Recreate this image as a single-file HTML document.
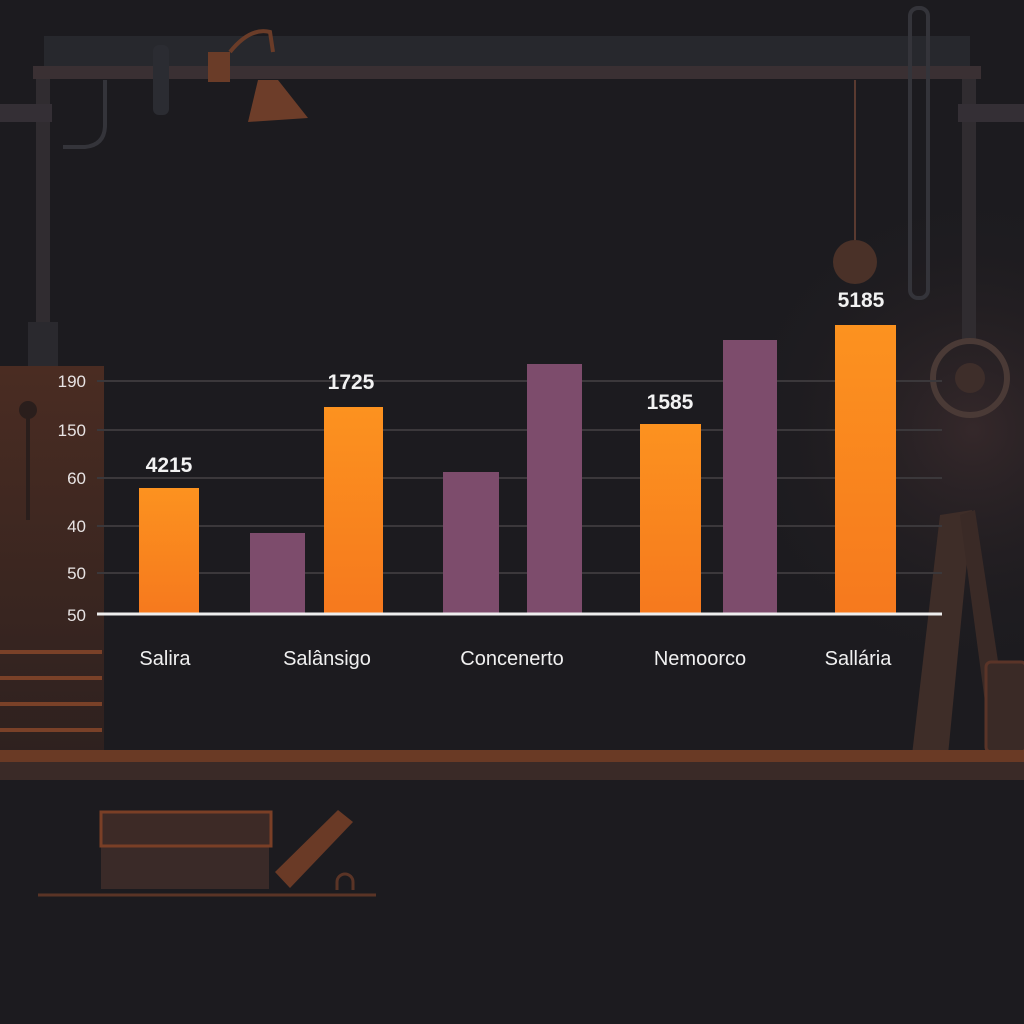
<!DOCTYPE html>
<html><head><meta charset="utf-8"><style>
html,body{margin:0;padding:0;background:#1c1b1f;}
svg{display:block}
text{font-family:"Liberation Sans",sans-serif;}
</style></head><body>
<svg width="1024" height="1024" viewBox="0 0 1024 1024" xmlns="http://www.w3.org/2000/svg">
<defs>
<linearGradient id="og" x1="0" y1="0" x2="0" y2="1"><stop offset="0" stop-color="#fc921f"/><stop offset="1" stop-color="#f6791e"/></linearGradient>
<linearGradient id="lp" x1="0" y1="0" x2="0" y2="1"><stop offset="0" stop-color="#4a2c22"/><stop offset="1" stop-color="#2e211f"/></linearGradient>
<radialGradient id="rg" cx="0.95" cy="0.42" r="0.25"><stop offset="0" stop-color="#35282a"/><stop offset="1" stop-color="#1c1b1f" stop-opacity="0"/></radialGradient>
</defs>
<rect width="1024" height="1024" fill="#1c1b1f"/>
<rect width="1024" height="1024" fill="url(#rg)"/>
<!-- top beam -->
<rect x="44" y="36" width="926" height="34" fill="#27282d"/>
<rect x="33" y="66" width="948" height="13" fill="#3a3033"/>
<rect x="36" y="79" width="14" height="290" fill="#302c30"/>
<rect x="962" y="79" width="14" height="260" fill="#302c30"/>
<rect x="0" y="104" width="52" height="18" fill="#342f35"/>
<rect x="958" y="104" width="66" height="18" fill="#342f35"/>
<rect x="28" y="322" width="30" height="46" fill="#2a292e"/>
<rect x="910" y="8" width="18" height="290" rx="8" fill="none" stroke="#34343a" stroke-width="4"/>
<rect x="208" y="52" width="22" height="30" fill="#6a3c28"/>
<path d="M230 52 q20 -25 40 -20 l3 20" fill="none" stroke="#6a3c28" stroke-width="4"/>
<polygon points="258,80 278,80 308,118 248,122" fill="#6d3d29"/>
<rect x="153" y="45" width="16" height="70" rx="6" fill="#2b2c32"/>
<path d="M105 80 v45 q0 20 -20 22 h-22" fill="none" stroke="#34343a" stroke-width="4"/>
<line x1="855" y1="80" x2="855" y2="240" stroke="#5a3a30" stroke-width="2"/>
<ellipse cx="855" cy="262" rx="22" ry="22" fill="#4a3128"/>
<circle cx="970" cy="378" r="37" fill="none" stroke="#4a3a36" stroke-width="6"/>
<circle cx="970" cy="378" r="15" fill="#3e2e2a"/>
<!-- left panel -->
<rect x="0" y="366" width="104" height="390" fill="url(#lp)"/>
<line x1="28" y1="410" x2="28" y2="520" stroke="#2a1e1c" stroke-width="4"/>
<circle cx="28" cy="410" r="9" fill="#2a1e1c"/>
<g stroke="#7a4128" stroke-width="4">
<line x1="0" y1="652" x2="102" y2="652"/><line x1="0" y1="678" x2="102" y2="678"/><line x1="0" y1="704" x2="102" y2="704"/><line x1="0" y1="730" x2="102" y2="730"/>
</g>
<!-- right easel -->
<polygon points="940,515 972,510 948,755 912,755" fill="#3e2d28"/>
<polygon points="960,515 975,510 1010,740 990,740" fill="#3a2a26"/>
<rect x="986" y="662" width="40" height="90" rx="5" fill="#3a2a26" stroke="#5a3428" stroke-width="3"/>
<!-- shelf -->
<rect x="0" y="750" width="1024" height="12" fill="#6a3a25"/>
<rect x="0" y="762" width="1024" height="18" fill="#3a2a27"/>
<!-- box -->
<rect x="101" y="847" width="168" height="42" fill="#3a2a28"/>
<rect x="101" y="812" width="170" height="34" fill="#3d2a26" stroke="#7a3f26" stroke-width="3"/>
<polygon points="275,872 338,810 353,822 290,888" fill="#6a3a26"/>
<line x1="38" y1="895" x2="376" y2="895" stroke="#5a3426" stroke-width="3"/>
<path d="M337 890 v-8 a8 8 0 0 1 16 0 v8" fill="none" stroke="#5a3426" stroke-width="3"/>
<!-- grid -->
<g stroke="#3b383b" stroke-width="2">
<line x1="97" y1="381" x2="942" y2="381"/><line x1="97" y1="430" x2="942" y2="430"/><line x1="97" y1="478" x2="942" y2="478"/><line x1="97" y1="526" x2="942" y2="526"/><line x1="97" y1="573" x2="942" y2="573"/>
</g>
<!-- bars -->
<rect x="139" y="488" width="60" height="126" fill="url(#og)"/>
<rect x="250" y="533" width="55" height="81" fill="#7d4c6c"/>
<rect x="324" y="407" width="59" height="207" fill="url(#og)"/>
<rect x="443" y="472" width="56" height="142" fill="#7d4c6c"/>
<rect x="527" y="364" width="55" height="250" fill="#7d4c6c"/>
<rect x="640" y="424" width="61" height="190" fill="url(#og)"/>
<rect x="723" y="340" width="54" height="274" fill="#7d4c6c"/>
<rect x="835" y="325" width="61" height="289" fill="url(#og)"/>
<line x1="97" y1="614" x2="942" y2="614" stroke="#eeeeee" stroke-width="3"/>
<!-- ticks -->
<g fill="#e8e4e4" font-size="17" text-anchor="end">
<text x="86" y="387">190</text><text x="86" y="436">150</text><text x="86" y="484">60</text><text x="86" y="532">40</text><text x="86" y="579">50</text><text x="86" y="621">50</text>
</g>
<g fill="#f2f2f2" font-size="21" text-anchor="middle" font-weight="bold">
<text x="169" y="472">4215</text><text x="351" y="389">1725</text><text x="670" y="409">1585</text><text x="861" y="307">5185</text>
</g>
<g fill="#f0f0f0" font-size="20" text-anchor="middle">
<text x="165" y="665">Salira</text><text x="327" y="665">Salânsigo</text><text x="512" y="665">Concenerto</text><text x="700" y="665">Nemoorco</text><text x="858" y="665">Sallária</text>
</g>
</svg>
</body></html>
